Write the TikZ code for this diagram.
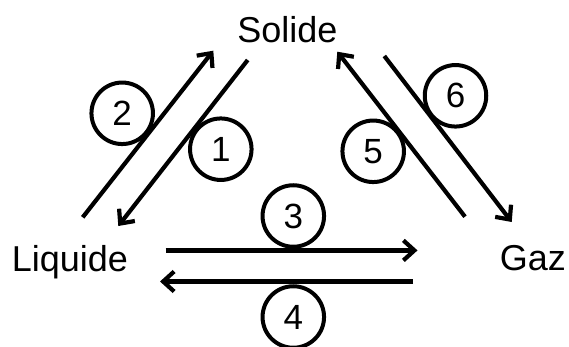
\documentclass[tikz,border=0pt]{standalone}
\usepackage{fontspec}
\setmainfont{Liberation Sans}
\usetikzlibrary{arrows.meta}
\begin{document}
\begin{tikzpicture}[x=1pt,y=-1pt,
  lbl/.style={font=\fontsize{36}{40}\selectfont, inner sep=0pt, anchor=base},
  num/.style={draw, circle, line width=4pt, minimum size=61.5pt, inner sep=0pt, font=\fontsize{35}{38}\selectfont},
  conv/.style={line width=4.2pt, -{Straight Barb[length=11pt,width=20pt]}}]
\useasboundingbox (0,0) rectangle (569,347);
\node[lbl] (sol) at (287.5,43) {Solide};
\node[lbl] (liq) at (70,271.7) {Liquide};
\node[lbl] (gaz) at (532.8,270.7) {Gaz};
% arrow end points
\coordinate (a2s) at (82.7,217.3);  \coordinate (a2e) at (213.3,50.7);
\coordinate (a1s) at (247.7,60);    \coordinate (a1e) at (118.3,226);
\coordinate (a5s) at (465,216.7);   \coordinate (a5e) at (337.3,51.7);
\coordinate (a6s) at (384.3,56);    \coordinate (a6e) at (511.7,222);
\coordinate (a3s) at (165.5,250.4); \coordinate (a3e) at (417.5,250.4);
\coordinate (a4s) at (413,281.5);   \coordinate (a4e) at (160,281.5);
\draw[conv] (a2s) -- (a2e);
\draw[conv] (a1s) -- (a1e);
\draw[conv] (a5s) -- (a5e);
\draw[conv] (a6s) -- (a6e);
\draw[conv] (a3s) -- (a3e);
\draw[conv] (a4s) -- (a4e);
% numbered circles
\node[num] (n1) at (220.8,149.2) {1};
\node[num] (n2) at (122.2,113.3) {2};
\node[num] (n3) at (293.3,216) {3};
\node[num] (n4) at (293.3,317) {4};
\node[num] (n5) at (373.2,151.3) {5};
\node[num] (n6) at (455.5,95.8) {6};
\end{tikzpicture}
\end{document}
